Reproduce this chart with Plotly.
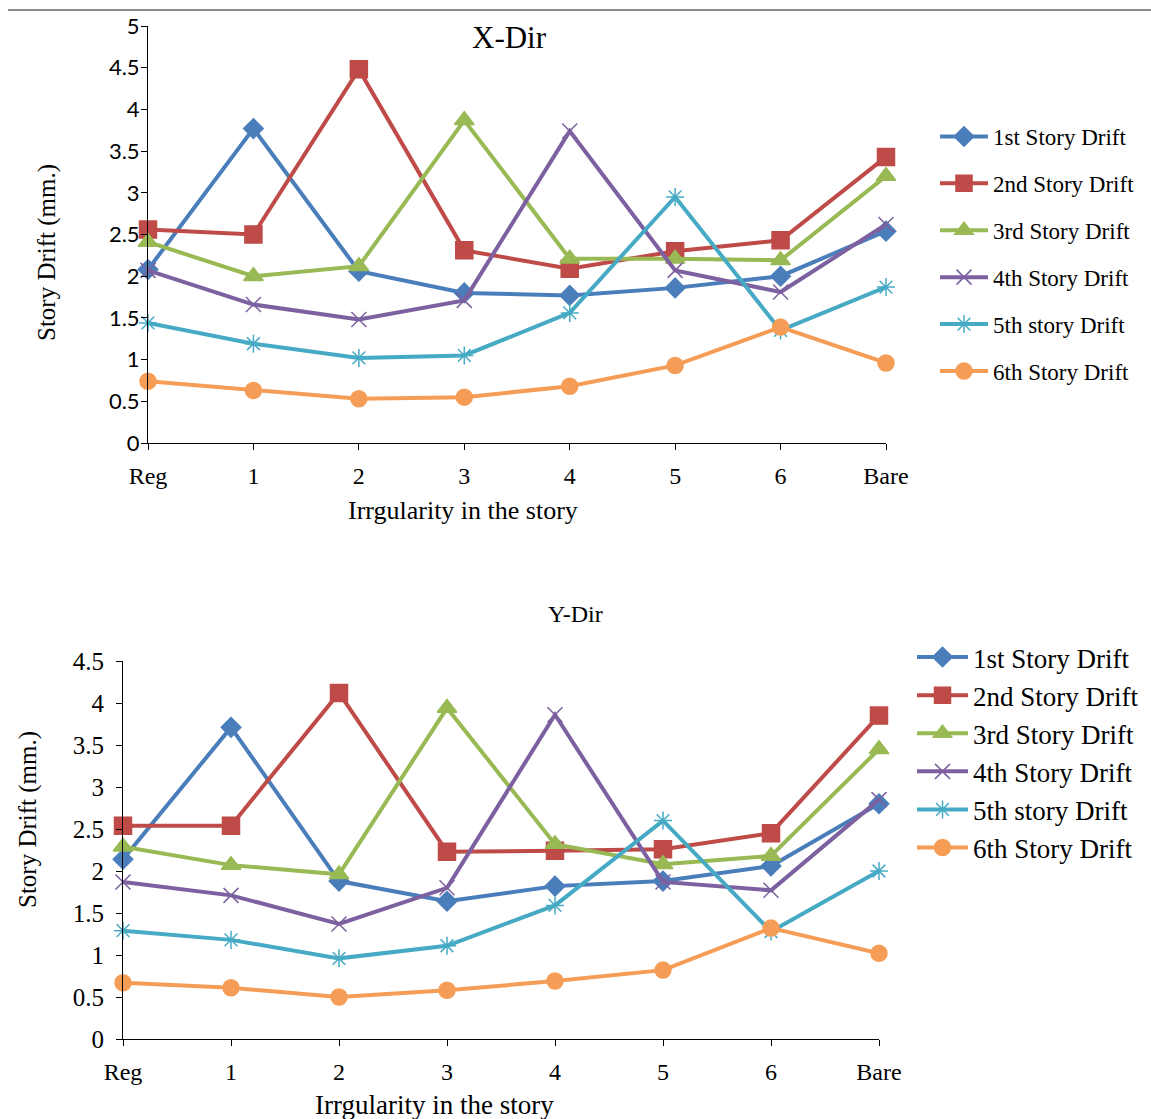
import plotly.graph_objects as go

categories = ["Reg", "1", "2", "3", "4", "5", "6", "Bare"]
series_names = ["1st Story Drift", "2nd Story Drift", "3rd Story Drift",
                "4th Story Drift", "5th story Drift", "6th Story Drift"]

x_dir_1st = [2.08, 3.77, 2.06, 1.80, 1.77, 1.86, 2.00, 2.54]
x_dir_2nd = [2.56, 2.50, 4.48, 2.31, 2.09, 2.30, 2.43, 3.43]
x_dir_3rd = [2.41, 2.00, 2.12, 3.87, 2.21, 2.21, 2.19, 3.20]
x_dir_4th = [2.07, 1.66, 1.48, 1.71, 3.74, 2.07, 1.81, 2.62]
x_dir_5th = [1.44, 1.19, 1.02, 1.05, 1.56, 2.95, 1.35, 1.87]
x_dir_6th = [0.74, 0.63, 0.53, 0.55, 0.68, 0.93, 1.39, 0.96]

y_dir_1st = [2.14, 3.71, 1.88, 1.64, 1.82, 1.88, 2.06, 2.80]
y_dir_2nd = [2.54, 2.54, 4.12, 2.23, 2.24, 2.26, 2.45, 3.85]
y_dir_3rd = [2.29, 2.07, 1.96, 3.94, 2.32, 2.08, 2.18, 3.45]
y_dir_4th = [1.87, 1.71, 1.37, 1.80, 3.86, 1.87, 1.77, 2.85]
y_dir_5th = [1.29, 1.18, 0.96, 1.11, 1.59, 2.60, 1.28, 2.00]
y_dir_6th = [0.67, 0.61, 0.50, 0.58, 0.69, 0.82, 1.32, 1.02]

x_dir = [x_dir_1st, x_dir_2nd, x_dir_3rd, x_dir_4th, x_dir_5th, x_dir_6th]
y_dir = [y_dir_1st, y_dir_2nd, y_dir_3rd, y_dir_4th, y_dir_5th, y_dir_6th]

y1_ticks = [0, 0.5, 1, 1.5, 2, 2.5, 3, 3.5, 4, 4.5, 5]
y2_ticks = [0, 0.5, 1, 1.5, 2, 2.5, 3, 3.5, 4, 4.5]

colors = ["#4A7EBB", "#BE4B48", "#98B954", "#7D60A0", "#46AAC5", "#F59D56"]
symbols = ["diamond", "square", "triangle-up", "x-thin-open", "asterisk-open", "circle"]
sizes = [15, 17, 17, 15, 15, 16]

SERIF = "Liberation Serif"

fig = go.Figure()
for i, name in enumerate(series_names):
    fig.add_trace(go.Scatter(
        x=categories, y=x_dir[i], name=name, mode="lines+markers",
        line=dict(color=colors[i], width=4),
        marker=dict(symbol=symbols[i], size=sizes[i], color=colors[i],
                    line=dict(color=colors[i], width=1.5)),
        xaxis="x", yaxis="y", legend="legend", legendgroup="a" + str(i),
        cliponaxis=False))
for i, name in enumerate(series_names):
    fig.add_trace(go.Scatter(
        x=categories, y=y_dir[i], name=name, mode="lines+markers",
        line=dict(color=colors[i], width=4),
        marker=dict(symbol=symbols[i], size=sizes[i], color=colors[i],
                    line=dict(color=colors[i], width=1.5)),
        xaxis="x2", yaxis="y2", legend="legend2", legendgroup="b" + str(i),
        cliponaxis=False))

axis_common = dict(showline=True, linecolor="black", linewidth=1, showgrid=False,
                   zeroline=False, ticks="outside", ticklen=6, tickcolor="black",
                   automargin=False)

def ann(text, x, y, size, angle=0):
    return dict(text=text, x=x / 1151, y=1 - y / 1119, xref="paper", yref="paper",
                xanchor="center", yanchor="middle", showarrow=False, textangle=angle,
                font=dict(family=SERIF, size=size, color="black"))

fig.update_layout(
    width=1151, height=1119,
    margin=dict(l=0, r=0, t=0, b=0, autoexpand=False),
    paper_bgcolor="white", plot_bgcolor="white",
    showlegend=True,
    xaxis=dict(domain=[148/1151, 886/1151], anchor="y", type="category",
               categoryorder="array", categoryarray=categories,
               range=[0, 7], tickfont=dict(family=SERIF, size=24, color="black"),
               ticklabelstandoff=5, **axis_common),
    yaxis=dict(domain=[1 - 443/1119, 1 - 26/1119], anchor="x", range=[0, 5],
               tickvals=y1_ticks, ticktext=[f"{v:g}" for v in y1_ticks],
               tickfont=dict(family="Lato", size=22, color="black"),
               ticklabelstandoff=-3, **axis_common),
    xaxis2=dict(domain=[123/1151, 879/1151], anchor="y2", type="category",
                categoryorder="array", categoryarray=categories,
                range=[0, 7], tickfont=dict(family=SERIF, size=24, color="black"),
                ticklabelstandoff=5, **axis_common),
    yaxis2=dict(domain=[1 - 1039/1119, 1 - 661/1119], anchor="x2", range=[0, 4.5],
                tickvals=y2_ticks, ticktext=[f"{v:g}" for v in y2_ticks],
                tickfont=dict(family=SERIF, size=25, color="black"),
                ticklabelstandoff=7, **axis_common),
    legend=dict(x=935/1151, y=1 - 115/1119, xanchor="left", yanchor="top",
                font=dict(family=SERIF, size=23, color="black"),
                tracegroupgap=14, traceorder="grouped", itemwidth=48,
                bgcolor="rgba(0,0,0,0)"),
    legend2=dict(x=912/1151, y=1 - 633/1119, xanchor="left", yanchor="top",
                 font=dict(family=SERIF, size=27, color="black"),
                 tracegroupgap=0, traceorder="grouped", itemwidth=51,
                 bgcolor="rgba(0,0,0,0)"),
    shapes=[dict(type="line", xref="paper", yref="paper", x0=8/1151, x1=1,
                 y0=1 - 10/1119, y1=1 - 10/1119, line=dict(color="#8C8C8C", width=2))],
    annotations=[
        ann("X-Dir", 509, 38, 31),
        ann("Y-Dir", 575, 614, 24),
        ann("Story Drift (mm.)", 47, 253, 25, -90),
        ann("Story Drift (mm.)", 28, 820, 25, -90),
        ann("Irrgularity in the story", 463, 510, 26),
        ann("Irrgularity in the story", 434, 1105, 27),
    ],
)

fig.write_html("out.html")
